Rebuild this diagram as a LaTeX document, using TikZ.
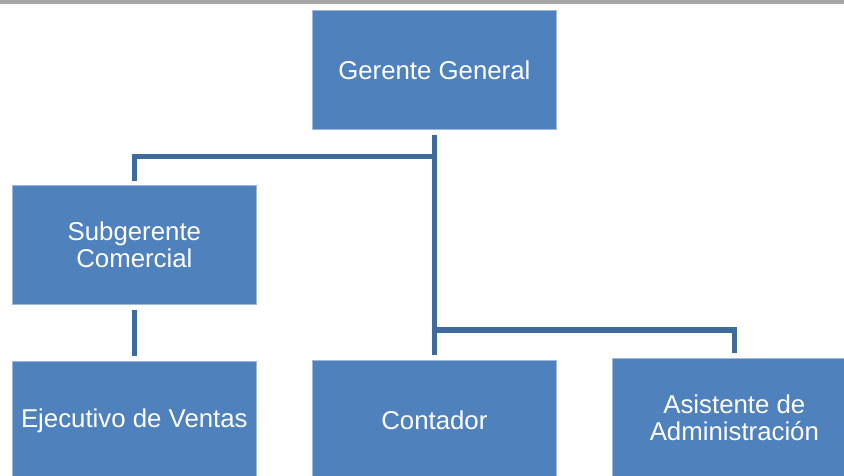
\documentclass[tikz,border=0pt]{standalone}
\usepackage{fontspec}
\setmainfont{Liberation Sans}
\usetikzlibrary{calc}
\definecolor{boxblue}{HTML}{4F81BD}
\definecolor{boxedge}{HTML}{9DB8DC}
\definecolor{linkblue}{HTML}{3F6A9C}
\definecolor{topgray}{HTML}{A6A6A6}
\tikzset{
  orgbox/.style={rectangle, fill=boxblue, draw=boxedge, line width=0.7pt,
    minimum width=244pt, minimum height=119pt, inner sep=0pt,
    text=white, align=center, anchor=north west,
    font=\fontsize{25.8}{27.5}\selectfont},
  conn/.style={draw=linkblue, line width=5.6pt, line join=miter}
}
\begin{document}
\begin{tikzpicture}[x=1pt,y=-1pt]
\useasboundingbox (0,0) rectangle (844,475);
\clip (0,0) rectangle (844,475);
\fill[topgray] (0,0) rectangle (844,4);
\node[orgbox] (gg) at (312,10) {Gerente General};
\node[orgbox] (sc) at (12,185) {Subgerente\\Comercial};
\node[orgbox] (ev) at (12,361) {Ejecutivo de Ventas};
\node[orgbox] (ct) at (312,360) {Contador};
\node[orgbox] (aa) at (612,358) {Asistente de\\Administración};
\coordinate (h1) at (0,156.5);
\coordinate (h2) at (0,330);
\draw[conn] ([yshift=-5pt]gg.south) -- ([yshift=5pt]ct.north);
\draw[conn] (gg.south |- h1) -| ([yshift=4pt]sc.north);
\draw[conn] (gg.south |- h2) -| ([yshift=5pt]aa.north);
\draw[conn] ([yshift=-5pt]sc.south) -- ([yshift=5pt]ev.north);
\end{tikzpicture}
\end{document}
